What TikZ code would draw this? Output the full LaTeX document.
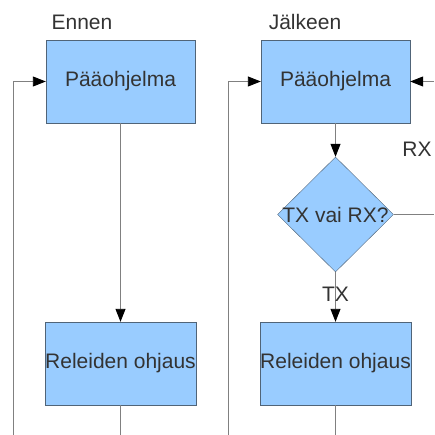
\documentclass[tikz,border=0pt]{standalone}
\usepackage{fontspec}
\setmainfont{Liberation Sans}
\usetikzlibrary{shapes.geometric,arrows.meta}
\definecolor{boxfill}{HTML}{99CCFF}
\definecolor{boxline}{HTML}{506478}
\definecolor{txt}{HTML}{333333}
\definecolor{wire}{HTML}{808080}
\tikzset{bx/.style = {rectangle, fill=boxfill, draw=boxline, minimum width=149pt, minimum height=83pt, inner sep=0pt, text=txt},
           dc/.style = {diamond, aspect=1, fill=boxfill, draw=boxline, minimum width=116pt, minimum height=115pt, inner sep=-3pt, text=txt},
           lb/.style = {inner sep=0pt, text=txt},
           w/.style = {draw=wire, line width=0.9pt},
           tip/.style = {-{Triangle[length=13pt,width=10pt,color=black]}}}

\begin{document}
\begin{tikzpicture}[x=1pt, y=-1pt, font=\fontsize{21}{25}\selectfont]
    \useasboundingbox (0,0) rectangle (434,435);
    % ennen
    \node[lb, anchor=base] (t1) at (82,30) {Ennen};
    \node[bx] (pa1) at (120.5,81.5) {Pääohjelma};
    \node[bx] (ro1) at (120.5,363.5) {Releiden ohjaus};
    \coordinate (l-in) at (13,435); \coordinate (l-out) at (120.5,435);
    \draw[w, tip] (pa1) -- (ro1);
    \draw[w] (ro1) -- (l-out);
    \draw[w, tip] (l-in) |- (pa1.west);
    % jalkeen
    \node[lb, anchor=base] (t2) at (305,30) {Jälkeen};
    \node[bx] (pa2) at (335.5,81.5) {Pääohjelma};
    \node[dc] (q) at (335.5,214.5) {TX vai RX?};
    \node[bx] (ro2) at (335.5,363.5) {Releiden ohjaus};
    \node[lb] (rx) at (417,149) {RX};
    \coordinate (r-in) at (228,435); \coordinate (r-out) at (335.5,435);
    \coordinate (x-in) at (434,81.5); \coordinate (x-out) at (434,214.5);
    \draw[w, tip] (pa2) -- (q);
    \draw[w, tip] (q) -- (ro2);
    \node[lb] (tx) at (335.5,294) {TX};
    \draw[w] (q.east) -- (x-out);
    \draw[w, tip] (x-in) -- (pa2.east);
    \draw[w] (ro2) -- (r-out);
    \draw[w, tip] (r-in) |- (pa2.west);
\end{tikzpicture}
\end{document}
